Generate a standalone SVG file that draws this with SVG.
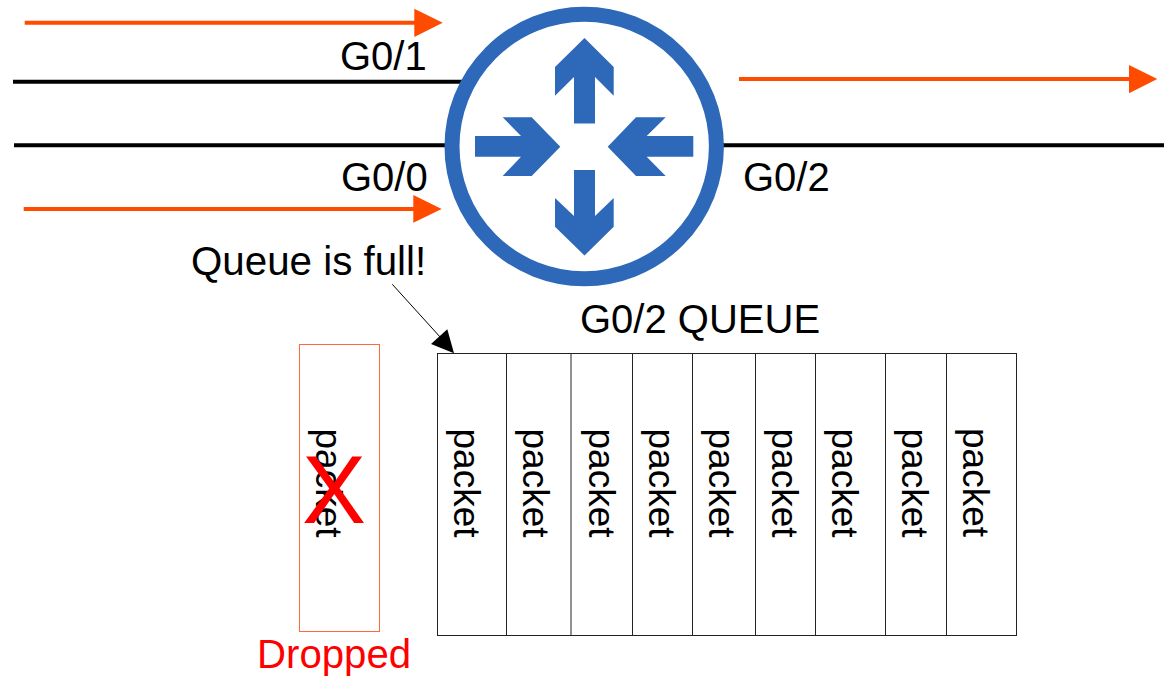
<svg xmlns="http://www.w3.org/2000/svg" width="1164" height="676" viewBox="0 0 1164 676">
<style>
text{font-family:"Liberation Sans",Arial,sans-serif;font-size:40px;fill:#000}
.p{font-size:37px}
.o{stroke:#ff4b00;stroke-width:4;fill:none}
.k{stroke:#000;stroke-width:4;fill:none}
.c{fill:#fff;stroke:#222;stroke-width:1}
.a{fill:#2e68b9}
</style>
<rect width="1164" height="676" fill="#fff"/>
<g id="connectors">
<path class="k" d="M13 81.700H470M14 145.300H470M715 145.300H1164"/>
<path class="o" d="M24.700 22.700H418M739 79H1132M23.700 209H417"/>
<path fill="#ff4b00" d="M414.300 8.700L442.700 22.800L414.300 37ZM1129 65L1157.300 79L1129 93.300ZM413.300 195L441.700 209L413.300 222.700Z"/>
<path d="M392.300 284.300L441 338" stroke="#000" stroke-width="1" fill="none"/>
<path d="M431 344L454 353.300L447.300 329.300Z" fill="#000"/>
</g>
<g id="router">
<circle cx="584.200" cy="146.500" r="132.200" fill="#fff" stroke="#2e68b9" stroke-width="15"/>
<path class="a" d="M584.500 38L613.700 67V95.700L595 77V123.500H574V77L555 95.700V67Z"/>
<path class="a" d="M584.500 255.500L613.700 226.700V198L595 216V170H574V216L555 198V226.700Z"/>
<path class="a" d="M560.300 146.700L531.700 117.300H502.700L521 136H475V156.700H521L502.700 176H531.700Z"/>
<path class="a" d="M607.700 146.700L636 117.300H665.700L646.700 136H693.300V156.700H646.700L665.700 176H636Z"/>
</g>
<g id="labels">
<text x="340" y="70">G0/1</text>
<text x="341" y="191">G0/0</text>
<text x="743" y="191">G0/2</text>
<text x="191" y="275" style="font-size:40.300px">Queue is full!</text>
<text x="580" y="333">G0/2 QUEUE</text>
</g>
<g id="queue">
<rect class="c" x="437.500" y="353.500" width="579" height="282"/>
<path class="c" d="M506.500 353.500V635.500M571 353.500V635.500M632.500 353.500V635.500M692.500 353.500V635.500M755.500 353.500V635.500M815.500 353.500V635.500M885.500 353.500V635.500M946.500 353.500V635.500"/>
<text class="p" transform="translate(454 428.500) rotate(90)">packet</text>
<text class="p" transform="translate(523 428.500) rotate(90)">packet</text>
<text class="p" transform="translate(588.500 428.500) rotate(90)">packet</text>
<text class="p" transform="translate(648.500 428.500) rotate(90)">packet</text>
<text class="p" transform="translate(709 428.500) rotate(90)">packet</text>
<text class="p" transform="translate(772 428.500) rotate(90)">packet</text>
<text class="p" transform="translate(832 428.500) rotate(90)">packet</text>
<text class="p" transform="translate(902 428.500) rotate(90)">packet</text>
<text class="p" transform="translate(963 428) rotate(90)">packet</text>
</g>
<g id="dropped">
<rect x="299.500" y="344.500" width="80" height="287" fill="#fff" stroke="#ff6a3d" stroke-width="1"/>
<text class="p" transform="translate(316 428.500) rotate(90)">packet</text>
<text x="302" y="523" style="font-size:96px;fill:#f00" textLength="64" lengthAdjust="spacingAndGlyphs">X</text>
<text x="257" y="668" style="font-size:40.200px;fill:#f00">Dropped</text>
</g>
</svg>
